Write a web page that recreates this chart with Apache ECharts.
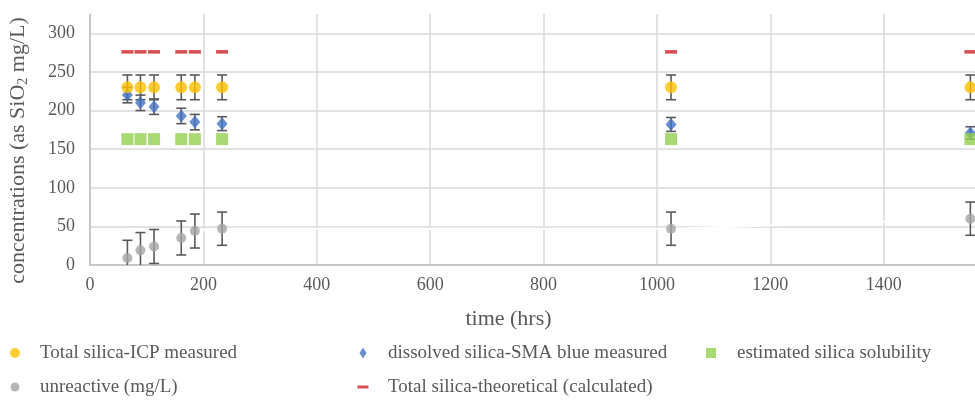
<!DOCTYPE html>
<html>
<head>
<meta charset="utf-8">
<script src="https://cdn.jsdelivr.net/npm/echarts@6/dist/echarts.min.js"></script>
<style>html,body{margin:0;padding:0;background:#fff;}#c{width:975px;height:405px;}</style>
</head>
<body>
<div id="c"></div>
<script>
// ---- data ----
var times = [66, 89, 113, 161, 185, 233, 1025, 1553];
var icpMeasured = [230, 230, 230, 230, 230, 230, 230, 230];
var icpErr = [16, 16, 16, 16, 16, 16, 16, 16];
var smaMeasured = [220, 210, 205, 193, 185, 183, 182, 171];
var smaErr = [10, 10, 10, 10, 10, 9, 9, 8];
var solubility = [163, 163, 163, 163, 163, 163, 163, 163];
var unreactive = [9, 19, 24, 35, 44, 47, 47, 60];
var unreactiveErr = [23, 23, 22, 22, 22, 21.5, 21.5, 21.5];
var theoretical = [276, 276, 276, 276, 276, 276, 276, 276];
var xTicks = [0, 200, 400, 600, 800, 1000, 1200, 1400, 1600];
var yTicks = [0, 50, 100, 150, 200, 250, 300];

var names = {
  icp: 'Total silica-ICP measured',
  sma: 'dissolved silica-SMA blue measured',
  sol: 'estimated silica solubility',
  unr: 'unreactive (mg/L)',
  theo: 'Total silica-theoretical (calculated)'
};

var FONT = 'Liberation Serif';
var TXT = '#595959';

function pairs(vals) { return times.map(function (t, i) { return [t, vals[i]]; }); }
function errData(vals, errs) { return times.map(function (t, i) { return [t, vals[i] - errs[i], vals[i] + errs[i]]; }); }

function errRender(params, api) {
  var x = api.value(0), lo = api.value(1), hi = api.value(2);
  var pLo = api.coord([x, lo]), pHi = api.coord([x, hi]);
  var hw = 5;
  var st = { stroke: '#595959', lineWidth: 1.6 };
  return {
    type: 'group',
    children: [
      { type: 'line', shape: { x1: pLo[0], y1: pLo[1], x2: pHi[0], y2: pHi[1] }, style: st },
      { type: 'line', shape: { x1: pHi[0] - hw, y1: pHi[1], x2: pHi[0] + hw, y2: pHi[1] }, style: st },
      { type: 'line', shape: { x1: pLo[0] - hw, y1: pLo[1], x2: pLo[0] + hw, y2: pLo[1] }, style: st }
    ]
  };
}

function errSeries(vals, errs) {
  return {
    type: 'custom', renderItem: errRender, clip: true, silent: true,
    encode: { x: 0, y: [1, 2] }, data: errData(vals, errs)
  };
}

function legendItem(name, c, t, y, w, h) {
  var left = c - w / 2;
  var pad = t - (left + w + 5);
  return {
    data: [name], left: left, top: y - 11, itemWidth: w, itemHeight: h,
    itemGap: 0, padding: 0, selectedMode: false,
    textStyle: { fontFamily: FONT, fontSize: 19, color: TXT, lineHeight: 22, padding: [0, 0, 0, pad] }
  };
}

var chart = echarts.init(document.getElementById('c'), null, { renderer: 'canvas' });
var option = {
  animation: false,
  backgroundColor: '#ffffff',
  grid: { left: 90, right: -22, top: 14, bottom: 140, containLabel: false, outerBoundsMode: 'none' },
  xAxis: {
    type: 'value', min: 0, max: 1600, interval: 200,
    name: 'time (hrs)', nameLocation: 'middle', nameGap: 43,
    nameTextStyle: { fontFamily: FONT, fontSize: 22, color: TXT, padding: [0, 70, 0, 0] },
    axisLine: { show: true, lineStyle: { color: '#bfbfbf', width: 1.5 } },
    axisTick: { show: false },
    axisLabel: { fontFamily: FONT, fontSize: 18, color: TXT, margin: 11,
      formatter: function (v) { return xTicks.indexOf(v) >= 0 ? String(v) : ''; } },
    splitLine: { show: true, lineStyle: { color: '#d9d9d9', width: 1.5 } }
  },
  yAxis: {
    type: 'value', min: 0, max: 325, interval: 50,
    name: 'concentrations (as SiO{s|2} mg/L)', nameLocation: 'middle', nameGap: 60,
    nameTextStyle: { fontFamily: FONT, fontSize: 22, color: TXT, padding: [0, 22, 0, 0],
      rich: { s: { fontFamily: FONT, fontSize: 14, color: TXT, padding: [10, 0, 0, 0] } } },
    axisLine: { show: true, lineStyle: { color: '#bfbfbf', width: 1.5 } },
    axisTick: { show: false },
    axisLabel: { fontFamily: FONT, fontSize: 18, color: TXT, margin: 15,
      formatter: function (v) { return yTicks.indexOf(v) >= 0 ? String(v) : ''; } },
    splitLine: { show: true, lineStyle: { color: ['#d9d9d9', '#d9d9d9', '#d9d9d9', '#d9d9d9', '#d9d9d9', '#d9d9d9', '#d9d9d9', 'rgba(0,0,0,0)'], width: 1.5 } }
  },
  legend: [
    legendItem(names.icp, 15, 40, 353, 10, 10),
    legendItem(names.unr, 15, 40, 387, 9, 9),
    legendItem(names.sma, 363, 388, 353, 7, 11),
    legendItem(names.theo, 363, 388, 387, 11, 3),
    legendItem(names.sol, 711, 737, 353, 10, 10)
  ],
  series: [
    { name: names.theo, type: 'scatter', symbol: 'rect', symbolSize: [12, 3.5],
      itemStyle: { color: '#cf1f26' }, data: pairs(theoretical) },
    errSeries(smaMeasured, smaErr),
    { name: names.sma, type: 'scatter', symbol: 'diamond', symbolSize: [11, 13],
      itemStyle: { color: '#4472c4' }, data: pairs(smaMeasured) },
    errSeries(icpMeasured, icpErr),
    { name: names.icp, type: 'scatter', symbol: 'circle', symbolSize: 12,
      itemStyle: { color: '#ffc000' }, data: pairs(icpMeasured) },
    { name: names.sol, type: 'scatter', symbol: 'rect', symbolSize: 12,
      itemStyle: { color: '#92d050' }, data: pairs(solubility) },
    { type: 'line', silent: true, symbol: 'none', z: 1, data: pairs(unreactive),
      lineStyle: { color: '#ffffff', width: 2 } },
    errSeries(unreactive, unreactiveErr),
    { name: names.unr, type: 'scatter', symbol: 'circle', symbolSize: 10, z: 3,
      itemStyle: { color: '#a5a5a5' }, data: pairs(unreactive) }
  ]
};
chart.setOption(option);
</script>
</body>
</html>
